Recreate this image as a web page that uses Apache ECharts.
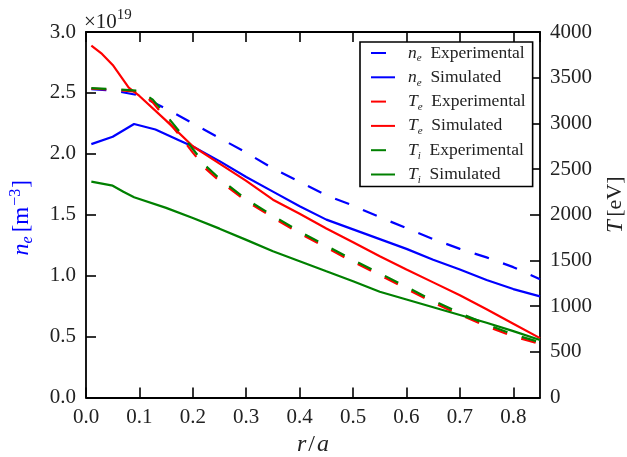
<!DOCTYPE html>
<html><head><meta charset="utf-8">
<script src="https://cdn.jsdelivr.net/npm/echarts@6/dist/echarts.min.js"></script>
<style>html,body{margin:0;padding:0;background:#fff}#c{width:627px;height:457px}</style>
</head><body><div id="c"></div><script>
const FONT = "'Liberation Serif','DejaVu Serif',serif";

// n_e (left axis, units of 1e19 m^-3)
const rNeExp = [0.01,0.05,0.10,0.15,0.20,0.25,0.30,0.35,0.40,0.45,0.50,0.55,0.60,0.65,0.70,0.75,0.80,0.85];
const neExp  = [2.53,2.52,2.48,2.37,2.25,2.13,2.01,1.88,1.77,1.66,1.575,1.48,1.39,1.30,1.22,1.15,1.07,0.97];
const rNeSim = [0.01,0.05,0.09,0.13,0.175,0.20,0.25,0.30,0.35,0.40,0.45,0.50,0.55,0.60,0.65,0.70,0.75,0.80,0.85];
const neSim  = [2.08,2.14,2.245,2.20,2.11,2.06,1.94,1.81,1.69,1.57,1.46,1.38,1.30,1.22,1.13,1.05,0.965,0.89,0.83];

// temperatures (right axis, eV)
const rTExp = [0.01,0.05,0.10,0.125,0.15,0.175,0.20,0.225,0.25,0.30,0.35,0.40,0.45,0.50,0.55,0.60,0.65,0.70,0.75,0.80,0.85];
const teExp = [3380,3370,3345,3230,3050,2870,2680,2500,2370,2150,1970,1795,1640,1485,1340,1190,1040,905,780,670,585];
const tiExp = [3385,3375,3355,3260,3090,2910,2720,2530,2395,2170,1990,1815,1660,1505,1360,1210,1060,925,800,690,605];
const rTeSim = [0.01,0.03,0.05,0.08,0.10,0.15,0.20,0.25,0.30,0.35,0.40,0.45,0.50,0.55,0.60,0.65,0.70,0.75,0.80,0.85];
const teSim  = [3850,3760,3640,3390,3300,3030,2750,2560,2370,2165,2010,1850,1700,1545,1400,1260,1120,965,808,650];
const rTiSim = [0.01,0.05,0.07,0.09,0.15,0.20,0.25,0.30,0.35,0.40,0.45,0.50,0.55,0.60,0.65,0.70,0.75,0.80,0.85];
const tiSim  = [2362,2318,2252,2191,2075,1965,1848,1725,1600,1492,1382,1273,1158,1073,988,903,818,726,629];

const pairs = (xs, ys) => xs.map((x, i) => [x, ys[i]]);

const legendLabels = {
  'ne_exp': '{i|n}{s|e}  {t|Experimental}',
  'ne_sim': '{i|n}{s|e}  {t|Simulated}',
  'te_exp': '{i|T}{s|e}  {t|Experimental}',
  'te_sim': '{i|T}{s|e}  {t|Simulated}',
  'ti_exp': '{i|T}{s|i}  {t|Experimental}',
  'ti_sim': '{i|T}{s|i}  {t|Simulated}'
};

const axisCommon = {
  axisLine: {show: true, onZero: false, lineStyle: {color: '#000', width: 1.8}},
  axisTick: {show: true, inside: true, length: 10, lineStyle: {color: '#000', width: 1.6}},
  splitLine: {show: false},
  axisLabel: {color: '#222', fontFamily: FONT, fontSize: 21}
};

function line(name, data, color, dashed, yIdx) {
  return {
    name, type: 'line', data, yAxisIndex: yIdx, xAxisIndex: 0,
    symbol: 'none', smooth: false, animation: false,
    lineStyle: {color, width: 2.2, type: dashed ? [15, 15] : 'solid'},
    itemStyle: {color}
  };
}

const chart = echarts.init(document.getElementById('c'), null, {renderer: 'canvas'});
chart.setOption({
  animation: false,
  backgroundColor: '#fff',
  grid: {left: 86, right: 87, top: 32, bottom: 59.5, containLabel: false, outerBoundsMode: 'none'},
  xAxis: [
    Object.assign({}, axisCommon, {
      type: 'value', position: 'bottom', min: 0, max: 0.85, interval: 0.1,
      axisLabel: Object.assign({}, axisCommon.axisLabel, {margin: 9, showMaxLabel: false,
        formatter: v => (Math.abs(v * 10 - Math.round(v * 10)) < 1e-6 ? v.toFixed(1) : '')}),
      name: '{i|r}{t|/}{i|a}', nameLocation: 'middle', nameGap: 34,
      nameTextStyle: {rich: {
        i: {fontFamily: FONT, fontStyle: 'italic', fontSize: 24, color: '#222'},
        t: {fontFamily: FONT, fontSize: 24, color: '#222', padding: [0, 2, 0, 2]}
      }}
    }),
    Object.assign({}, axisCommon, {
      type: 'value', position: 'top', min: 0, max: 0.85, interval: 0.1,
      axisLabel: {show: false}
    })
  ],
  yAxis: [
    Object.assign({}, axisCommon, {
      type: 'value', position: 'left', min: 0, max: 3, interval: 0.5,
      axisLabel: Object.assign({}, axisCommon.axisLabel, {margin: 10, formatter: v => v.toFixed(1)}),
      name: '{i|n}{s|e}{t|[m}{sup|−3}{t|]}', nameLocation: 'middle', nameRotate: 90, nameGap: 50,
      nameTextStyle: {padding: [0, 6, 0, 0], rich: {
        i: {fontFamily: FONT, fontStyle: 'italic', fontSize: 24, color: '#0000ff', lineHeight: 28},
        s: {fontFamily: FONT, fontStyle: 'italic', fontSize: 16, color: '#0000ff', verticalAlign: 'bottom', lineHeight: 16, padding: [12, 4, 0, 0]},
        t: {fontFamily: FONT, fontSize: 23, color: '#0000ff', lineHeight: 28},
        sup: {fontFamily: FONT, fontSize: 16, color: '#0000ff', verticalAlign: 'top', lineHeight: 16, padding: [0, 1, 0, 1]}
      }}
    }),
    Object.assign({}, axisCommon, {
      type: 'value', position: 'right', min: 0, max: 4000, interval: 500,
      axisLabel: Object.assign({}, axisCommon.axisLabel, {margin: 10, formatter: v => String(v)}),
      name: '{i|T} {t|[eV]}', nameLocation: 'middle', nameRotate: 90, nameGap: 64,
      nameTextStyle: {padding: [0, 0, 0, 20], rich: {
        i: {fontFamily: FONT, fontStyle: 'italic', fontSize: 23, color: '#222'},
        t: {fontFamily: FONT, fontSize: 22, color: '#222'}
      }}
    })
  ],
  legend: {
    orient: 'vertical', left: 360, top: 42,
    itemWidth: 24, itemHeight: 12, itemGap: 2.3,
    padding: [0, 7, 1, 10],
    borderColor: '#000', borderWidth: 1.6, borderRadius: 0, backgroundColor: '#fff',
    itemStyle: {opacity: 0},
    formatter: name => legendLabels[name],
    textStyle: {
      fontFamily: FONT, fontSize: 17.5, color: '#222', padding: [0, 0, 0, 8],
      rich: {
        i: {fontFamily: FONT, fontStyle: 'italic', fontSize: 17.5, color: '#222', lineHeight: 22},
        s: {fontFamily: FONT, fontStyle: 'italic', fontSize: 11, color: '#222', verticalAlign: 'bottom', lineHeight: 11, padding: [11, 0, 0, 0]},
        t: {fontFamily: FONT, fontSize: 17.5, color: '#222', lineHeight: 22}
      }
    },
    data: ['ne_exp', 'ne_sim', 'te_exp', 'te_sim', 'ti_exp', 'ti_sim']
  },
  graphic: [{
    type: 'text', left: 84, top: 8,
    style: {
      text: '{t|×10}{sup|19}',
      rich: {
        t: {fontFamily: FONT, fontSize: 21, fill: '#222', lineHeight: 25, verticalAlign: 'bottom'},
        sup: {fontFamily: FONT, fontSize: 15, fill: '#222', verticalAlign: 'top', lineHeight: 15}
      }
    }
  }],
  series: [
    line('ne_exp', pairs(rNeExp, neExp), '#0000ff', true, 0),
    line('ne_sim', pairs(rNeSim, neSim), '#0000ff', false, 0),
    line('te_exp', pairs(rTExp, teExp), '#ff0000', true, 1),
    line('te_sim', pairs(rTeSim, teSim), '#ff0000', false, 1),
    line('ti_exp', pairs(rTExp, tiExp), '#008000', true, 1),
    line('ti_sim', pairs(rTiSim, tiSim), '#008000', false, 1)
  ]
});
</script></body></html>
